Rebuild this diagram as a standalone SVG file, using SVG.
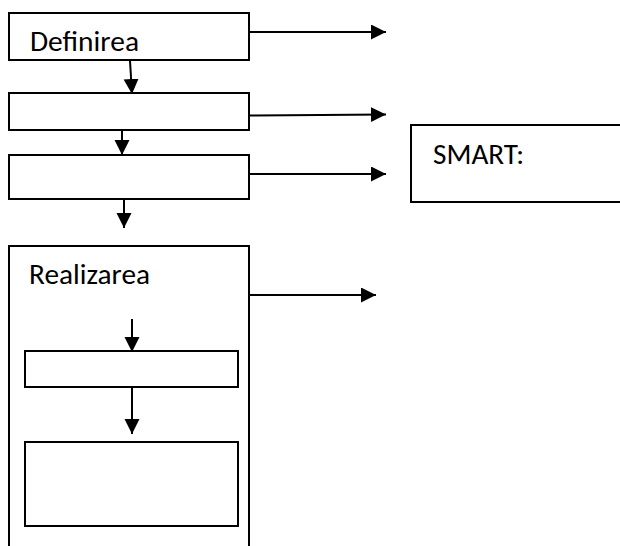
<svg xmlns="http://www.w3.org/2000/svg" width="620" height="546" viewBox="0 0 620 546">
<style>
.box{fill:#fff;stroke:#000;stroke-width:2}
.lbl{font-family:"Carlito","Open Sans","Liberation Sans",sans-serif;font-size:29px;fill:#000}
.con{stroke:#000;stroke-width:2;fill:none;marker-end:url(#ah)}
</style>
<defs>
<marker id="ah" markerUnits="userSpaceOnUse" markerWidth="16" markerHeight="16" refX="15" refY="7.5" orient="auto">
<path d="M0,0 L15,7.5 L0,15 Z" fill="#000"/>
</marker>
</defs>
<rect width="620" height="546" fill="#fff"/>
<g id="node-definirea"><rect class="box" x="9" y="13" width="240" height="47"/><text class="lbl" x="30" y="51" textLength="109" lengthAdjust="spacingAndGlyphs">Definirea</text></g>
<g id="node-2"><rect class="box" x="9" y="93" width="240" height="37"/></g>
<g id="node-3"><rect class="box" x="9" y="155" width="240" height="44"/></g>
<g id="node-smart"><rect class="box" x="411" y="125" width="220" height="77"/><text class="lbl" x="433" y="164" textLength="91" lengthAdjust="spacingAndGlyphs">SMART:</text></g>
<g id="node-realizarea"><rect class="box" x="9" y="246" width="240" height="320"/><text class="lbl" x="29" y="284" textLength="121" lengthAdjust="spacingAndGlyphs">Realizarea</text></g>
<g id="node-inner1"><rect class="box" x="25" y="351" width="213" height="36"/></g>
<g id="node-inner2"><rect class="box" x="25" y="442" width="213" height="84"/></g>
<g id="connectors">
<line class="con" x1="250" y1="32" x2="386" y2="32"/>
<line class="con" x1="250" y1="115.5" x2="386" y2="114.5"/>
<line class="con" x1="250" y1="174" x2="386" y2="174"/>
<line class="con" x1="250" y1="295" x2="376" y2="295"/>
<line class="con" x1="130" y1="61" x2="132" y2="94"/>
<line class="con" x1="122" y1="131" x2="122" y2="155"/>
<line class="con" x1="124" y1="200" x2="124" y2="228"/>
<line class="con" x1="132" y1="319" x2="132" y2="352"/>
<line class="con" x1="132" y1="388" x2="132" y2="434"/>
</g>
</svg>
